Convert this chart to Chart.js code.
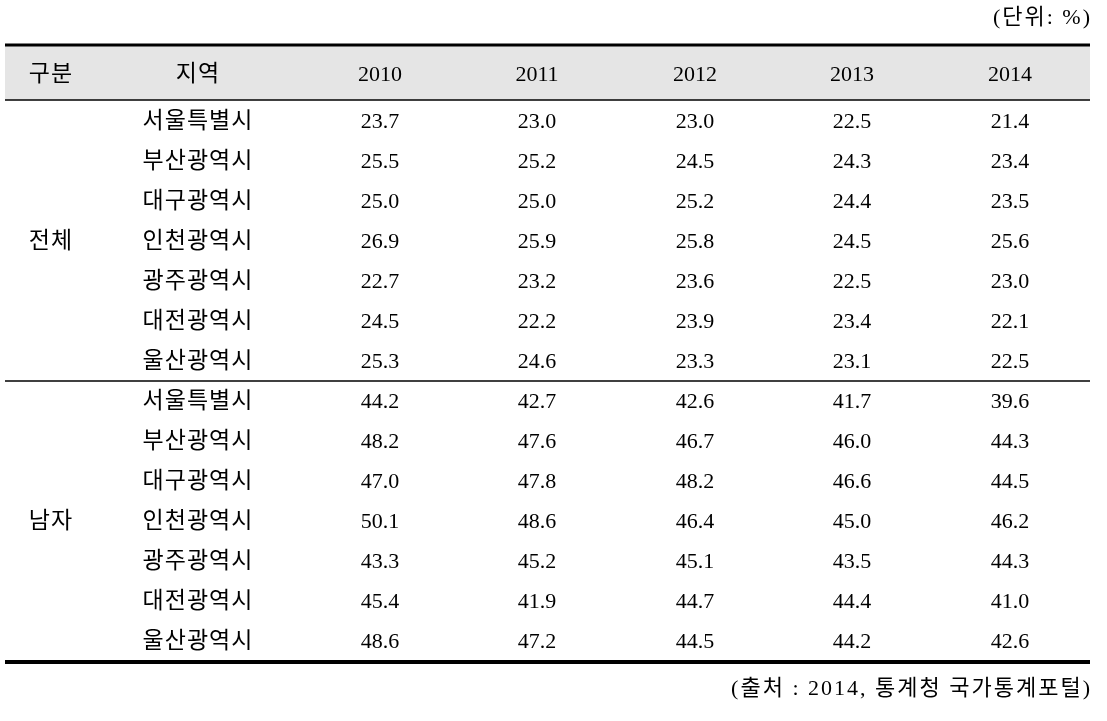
<!DOCTYPE html>
<html>
<head>
<meta charset="utf-8">
<script src="https://cdn.jsdelivr.net/npm/chart.js@4"></script>
<style>
  html, body { margin: 0; padding: 0; background: #fff; }
  #wrap { width: 1107px; height: 721px; }
</style>
</head>
<body>
<div id="wrap"><canvas id="table" width="1107" height="721"></canvas></div>
<script>
// Table content
const years = ['2010', '2011', '2012', '2013', '2014'];
const groups = ['전체', '남자'];
const regions = ['서울특별시', '부산광역시', '대구광역시', '인천광역시', '광주광역시', '대전광역시', '울산광역시'];

// 전체 (rows = regions, cols = years)
const totalValues = [
  [23.7, 23.0, 23.0, 22.5, 21.4],
  [25.5, 25.2, 24.5, 24.3, 23.4],
  [25.0, 25.0, 25.2, 24.4, 23.5],
  [26.9, 25.9, 25.8, 24.5, 25.6],
  [22.7, 23.2, 23.6, 22.5, 23.0],
  [24.5, 22.2, 23.9, 23.4, 22.1],
  [25.3, 24.6, 23.3, 23.1, 22.5]
];
// 남자
const maleValues = [
  [44.2, 42.7, 42.6, 41.7, 39.6],
  [48.2, 47.6, 46.7, 46.0, 44.3],
  [47.0, 47.8, 48.2, 46.6, 44.5],
  [50.1, 48.6, 46.4, 45.0, 46.2],
  [43.3, 45.2, 45.1, 43.5, 44.3],
  [45.4, 41.9, 44.7, 44.4, 41.0],
  [48.6, 47.2, 44.5, 44.2, 42.6]
];
const groupValues = [totalValues, maleValues];

const unitText = '(단위: %)';
const sourceText = '(출처 : 2014, 통계청 국가통계포털)';

// Layout (in scale units = pixels of the 1107x721 area)
const colX = [51, 198, 380, 537, 695, 852, 1010];
const tableLeft = 5, tableRight = 1090;
const headerTop = 45, headerBottom = 100, headerY = 74;
const firstRowY = 121, rowStep = 40;
const FONT = '"Liberation Serif", "Noto Sans CJK KR", serif';

// Build cell datasets
const cells = [];   // {x, y, text}
cells.push({ x: colX[0], y: headerY, text: '구분' });
cells.push({ x: colX[1], y: headerY, text: '지역' });
years.forEach((yr, j) => cells.push({ x: colX[2 + j], y: headerY, text: yr }));

groups.forEach((g, gi) => {
  const base = gi * regions.length;
  const midRow = base + (regions.length - 1) / 2;
  cells.push({ x: colX[0], y: firstRowY + rowStep * midRow, text: g });
  regions.forEach((r, ri) => {
    const rowY = firstRowY + rowStep * (base + ri);
    cells.push({ x: colX[1], y: rowY, text: r });
    groupValues[gi][ri].forEach((v, j) => {
      cells.push({ x: colX[2 + j], y: rowY, text: v.toFixed(1) });
    });
  });
});

const tablePlugin = {
  id: 'tablePlugin',
  beforeDatasetsDraw(chart) {
    const { ctx, scales: { x, y } } = chart;
    const px = v => x.getPixelForValue(v);
    const py = v => y.getPixelForValue(v);
    ctx.save();
    // header background
    ctx.fillStyle = '#e5e5e5';
    ctx.fillRect(px(tableLeft), py(headerTop), px(tableRight) - px(tableLeft), py(headerBottom) - py(headerTop));
    const rule = (yy, w) => {
      ctx.beginPath();
      ctx.lineWidth = w;
      ctx.strokeStyle = '#000';
      ctx.moveTo(px(tableLeft), py(yy));
      ctx.lineTo(px(tableRight), py(yy));
      ctx.stroke();
    };
    rule(headerTop, 3);
    rule(headerBottom, 1.5);
    rule(firstRowY - rowStep / 2 + rowStep * regions.length, 1.5);
    rule(firstRowY - rowStep / 2 + rowStep * regions.length * 2 + 1, 4);
    // unit + source notes
    ctx.fillStyle = '#000';
    ctx.font = '22px ' + FONT;
    ctx.letterSpacing = '2px';
    ctx.textAlign = 'right';
    ctx.textBaseline = 'middle';
    ctx.fillText(unitText, px(tableRight) + 2, py(18));
    ctx.fillText(sourceText, px(tableRight) + 2, py(689));
    ctx.restore();
  },
  afterDatasetsDraw(chart) {
    const { ctx } = chart;
    const meta = chart.getDatasetMeta(0);
    const ds = chart.data.datasets[0];
    ctx.save();
    ctx.fillStyle = '#000';
    ctx.textAlign = 'center';
    ctx.textBaseline = 'middle';
    meta.data.forEach((pt, i) => {
      const t = ds.data[i].text;
      const hangul = /[가-힣]/.test(t);
      ctx.font = (hangul ? '23px ' : '22px ') + FONT;
      ctx.letterSpacing = hangul ? '1px' : '0px';
      ctx.fillText(t, pt.x, pt.y + 1);
    });
    ctx.restore();
  }
};

new Chart(document.getElementById('table'), {
  type: 'scatter',
  data: {
    datasets: [{
      data: cells,
      pointRadius: 0,
      pointHoverRadius: 0
    }]
  },
  options: {
    responsive: false,
    animation: false,
    events: [],
    layout: { padding: 0 },
    plugins: { legend: { display: false }, tooltip: { enabled: false } },
    scales: {
      x: { type: 'linear', min: 0, max: 1107, display: false },
      y: { type: 'linear', min: 0, max: 721, reverse: true, display: false }
    }
  },
  plugins: [tablePlugin]
});
</script>
</body>
</html>
